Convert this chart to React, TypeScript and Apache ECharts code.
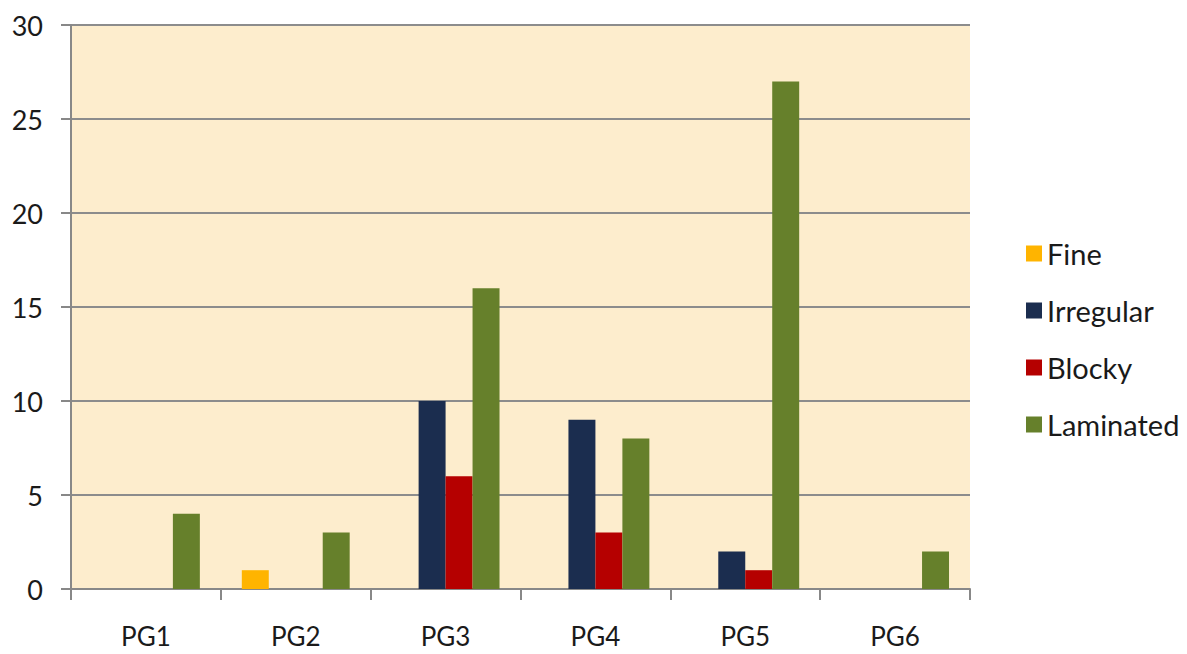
import React, { useEffect, useRef } from "react";
import * as echarts from "echarts";

const categories = ["PG1", "PG2", "PG3", "PG4", "PG5", "PG6"];
const fine = [0, 1, 0, 0, 0, 0];
const irregular = [0, 0, 10, 9, 2, 0];
const blocky = [0, 0, 6, 3, 1, 0];
const laminated = [4, 3, 16, 8, 27, 2];
const seriesNames = ["Fine", "Irregular", "Blocky", "Laminated"];
const seriesColors = ["#FFB400", "#1B2D4F", "#B50000", "#66802B"];
const yTicks = [0, 5, 10, 15, 20, 25, 30];

export default function App() {
  const ref = useRef<HTMLDivElement>(null);
  useEffect(() => {
    if (!ref.current) return;
    const chart = echarts.init(ref.current, undefined, { renderer: "svg" });
    const data = [fine, irregular, blocky, laminated];
    chart.setOption({
      animation: false,
      backgroundColor: "#ffffff",
      textStyle: { fontFamily: "Lato" },
      grid: {
        left: 71,
        right: 217,
        top: 25,
        bottom: 65,
        show: true,
        backgroundColor: "#FDEDCD",
        borderWidth: 0,
      },
      legend: {
        orient: "vertical",
        left: 1021,
        top: 234,
        itemWidth: 16,
        itemHeight: 16,
        itemGap: 28,
        icon: "rect",
        textStyle: { fontFamily: "Lato", fontSize: 29, color: "#1a1a1a" },
        data: seriesNames,
      },
      xAxis: {
        type: "category",
        data: categories,
        axisLine: { show: true, lineStyle: { color: "#888888", width: 2 } },
        axisTick: { show: true, length: 11, lineStyle: { color: "#888888", width: 2 } },
        axisLabel: { fontFamily: "Lato", fontSize: 26, color: "#1a1a1a", margin: 34 },
      },
      yAxis: {
        type: "value",
        min: yTicks[0],
        max: yTicks[yTicks.length - 1],
        interval: 5,
        axisLine: { show: true, lineStyle: { color: "#888888", width: 2 } },
        axisTick: { show: true, length: 10, lineStyle: { color: "#888888", width: 2 } },
        axisLabel: { fontFamily: "Lato", fontSize: 27, color: "#1a1a1a", margin: 28 },
        splitLine: { show: true, lineStyle: { color: "#8C8C8C", width: 2 } },
      },
      series: seriesNames.map((name, i) => ({
        name,
        type: "bar",
        data: data[i],
        barGap: "0%",
        barCategoryGap: "28%",
        itemStyle: { color: seriesColors[i] },
      })),
    });
    return () => chart.dispose();
  }, []);
  return (
    <div
      ref={ref}
      style={{ position: "fixed", left: 0, top: 0, width: 1187, height: 654 }}
    />
  );
}
